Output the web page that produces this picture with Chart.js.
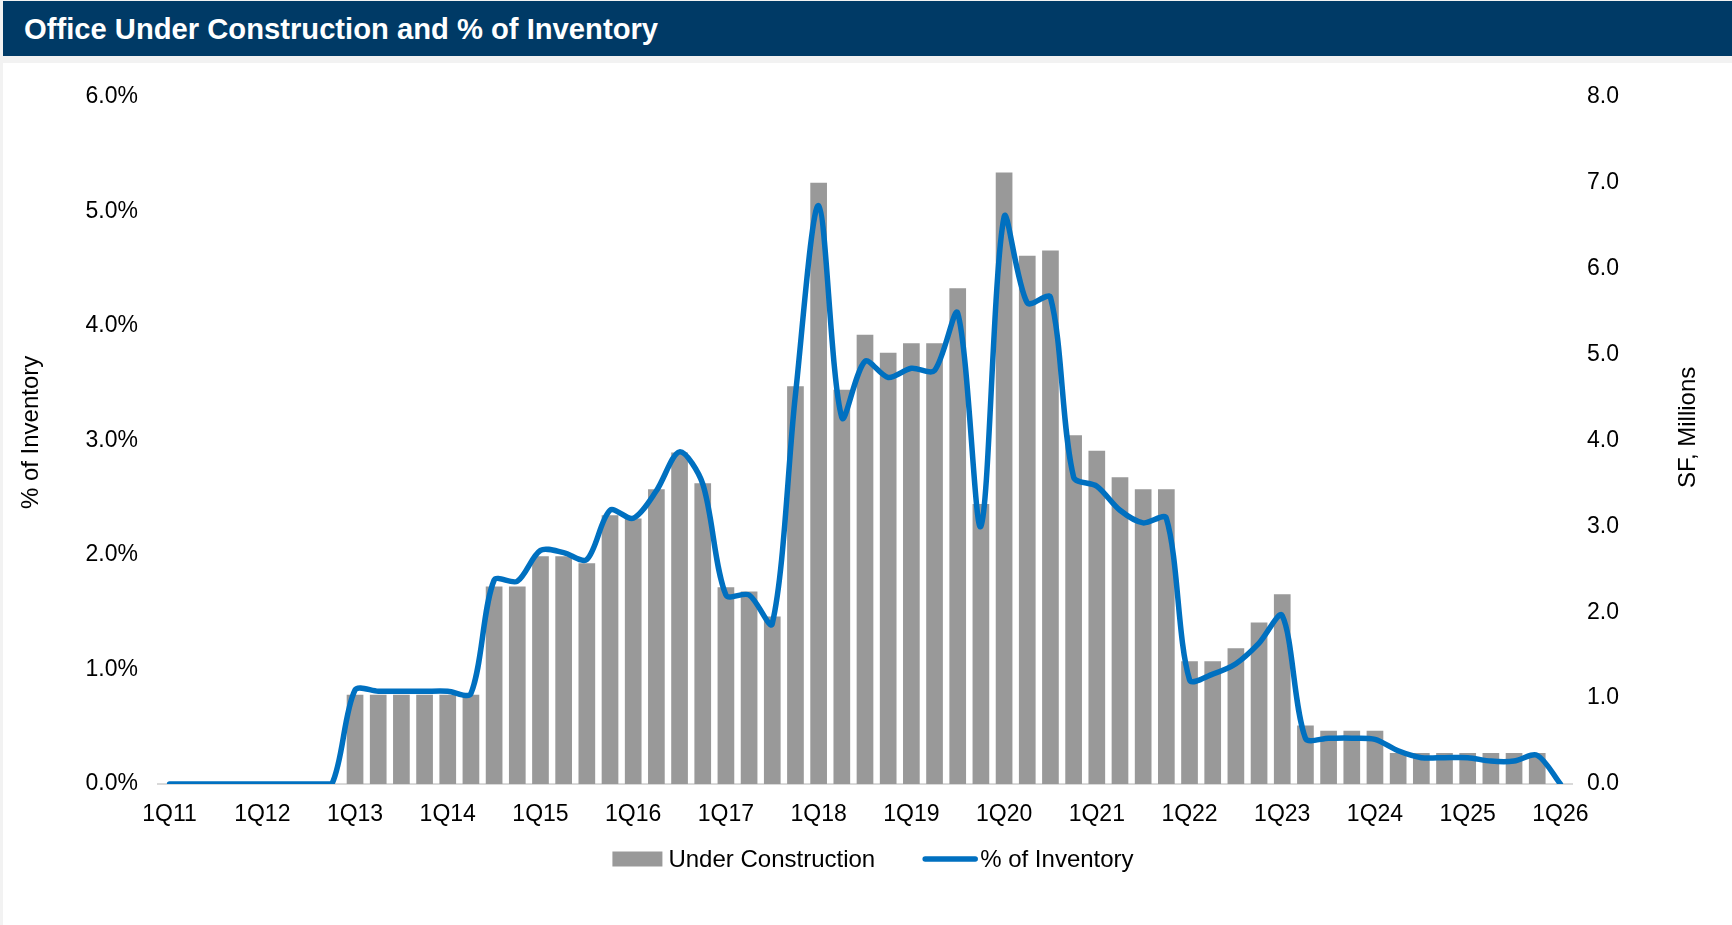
<!DOCTYPE html>
<html>
<head>
<meta charset="utf-8">
<title>Office Under Construction and % of Inventory</title>
<script src="https://cdn.jsdelivr.net/npm/chart.js@4.4.1/dist/chart.umd.min.js"></script>
<style>
  html, body { margin: 0; padding: 0; }
  body {
    width: 1732px; height: 925px; overflow: hidden; position: relative;
    background: #f2f2f2;
    font-family: "Liberation Sans", Arial, sans-serif;
  }
  #titleBar {
    position: absolute; left: 3px; top: 1px; width: 1729px; height: 55px;
    box-sizing: border-box; padding-left: 21px; padding-top: 1px;
    background: #003a66; color: #ffffff;
    font-weight: bold; font-size: 29.2px; line-height: 55px; white-space: nowrap;
  }
  #panel {
    position: absolute; left: 3px; top: 63px; width: 1729px; height: 862px;
    background: #ffffff;
  }
  #chart { position: absolute; left: 0; top: 0; }
</style>
</head>
<body>
<div id="titleBar">Office Under Construction and % of Inventory</div>
<div id="panel"><canvas id="chart" width="1729" height="862"></canvas></div>
<script>
// Quarter labels, 1Q11 through 1Q26
const quarters = [
  '1Q11','2Q11','3Q11','4Q11','1Q12','2Q12','3Q12','4Q12',
  '1Q13','2Q13','3Q13','4Q13','1Q14','2Q14','3Q14','4Q14',
  '1Q15','2Q15','3Q15','4Q15','1Q16','2Q16','3Q16','4Q16',
  '1Q17','2Q17','3Q17','4Q17','1Q18','2Q18','3Q18','4Q18',
  '1Q19','2Q19','3Q19','4Q19','1Q20','2Q20','3Q20','4Q20',
  '1Q21','2Q21','3Q21','4Q21','1Q22','2Q22','3Q22','4Q22',
  '1Q23','2Q23','3Q23','4Q23','1Q24','2Q24','3Q24','4Q24',
  '1Q25','2Q25','3Q25','4Q25','1Q26'
];

// Office space under construction, millions of SF
const underConstruction = [
  0, 0, 0, 0, 0, 0, 0, 0,
  1.04, 1.04, 1.04, 1.04, 1.04, 1.04, 2.30, 2.30,
  2.65, 2.65, 2.57, 3.13, 3.09, 3.43, 3.86, 3.50,
  2.29, 2.24, 1.95, 4.63, 7.00, 4.59, 5.23, 5.02,
  5.13, 5.13, 5.77, 3.26, 7.12, 6.15, 6.21, 4.06,
  3.88, 3.57, 3.43, 3.43, 1.43, 1.43, 1.58, 1.88,
  2.21, 0.68, 0.62, 0.62, 0.62, 0.36, 0.36, 0.36,
  0.36, 0.36, 0.36, 0.36, 0
];

// Under construction as a share of total inventory, percent
const pctOfInventory = [
  0, 0, 0, 0, 0, 0, 0, 0,
  0.82, 0.81, 0.81, 0.81, 0.81, 0.79, 1.78, 1.77,
  2.04, 2.02, 1.96, 2.39, 2.32, 2.56, 2.90, 2.62,
  1.65, 1.65, 1.40, 3.40, 5.05, 3.20, 3.69, 3.55,
  3.63, 3.61, 4.11, 2.25, 4.95, 4.20, 4.25, 2.68,
  2.60, 2.39, 2.28, 2.32, 0.91, 0.96, 1.05, 1.23,
  1.47, 0.40, 0.40, 0.40, 0.39, 0.29, 0.23, 0.23,
  0.23, 0.20, 0.20, 0.25, 0
];

const seriesNames = ['Under Construction', '% of Inventory'];
const axisTitles = { left: '% of Inventory', right: 'SF, Millions' };
const pctAxisRange = [0, 6];
const sfAxisRange = [0, 8];

const BAR_COLOR = '#999999';
const LINE_COLOR = '#0070c0';
const FONT = '"Liberation Sans", Arial, sans-serif';

// Axis titles (both read bottom-to-top) and the legend row under the axis
const sideTextAndKey = {
  id: 'sideTextAndKey',
  afterDraw(chart) {
    const { ctx, chartArea } = chart;
    ctx.save();
    ctx.fillStyle = '#000000';
    ctx.font = '24px ' + FONT;
    ctx.textAlign = 'center';
    ctx.textBaseline = 'middle';

    const midY = (chartArea.top + chartArea.bottom) / 2;
    ctx.save();
    ctx.translate(28, midY - 8);
    ctx.rotate(-Math.PI / 2);
    ctx.fillText(axisTitles.left, 0, 0);
    ctx.restore();

    ctx.save();
    ctx.translate(1685, midY - 13);
    ctx.rotate(-Math.PI / 2);
    ctx.fillText(axisTitles.right, 0, 0);
    ctx.restore();

    // legend
    const swatchW = 50, swatchH = 15, lineW = 54, gapText = 6, gapItems = 48;
    ctx.textAlign = 'left';
    const t1 = ctx.measureText(seriesNames[0]).width;
    const t2 = ctx.measureText(seriesNames[1]).width;
    const total = swatchW + gapText + t1 + gapItems + lineW + 3 + t2;
    const cx = 870, cy = 796;
    let x = cx - total / 2;
    ctx.fillStyle = BAR_COLOR;
    ctx.fillRect(x, cy - swatchH / 2, swatchW, swatchH);
    x += swatchW + gapText;
    ctx.fillStyle = '#000000';
    ctx.fillText(seriesNames[0], x, cy + 1);
    x += t1 + gapItems;
    ctx.strokeStyle = LINE_COLOR;
    ctx.lineWidth = 5.5;
    ctx.lineCap = 'round';
    ctx.beginPath();
    ctx.moveTo(x + 2, cy);
    ctx.lineTo(x + lineW - 2, cy);
    ctx.stroke();
    x += lineW + 3;
    ctx.fillText(seriesNames[1], x, cy + 1);
    ctx.restore();
  }
};

const tickFont = { family: FONT, size: 23 };

new Chart(document.getElementById('chart'), {
  data: {
    labels: quarters,
    datasets: [
      {
        type: 'bar',
        label: seriesNames[0],
        data: underConstruction,
        yAxisID: 'ySF',
        backgroundColor: BAR_COLOR,
        borderWidth: 0,
        categoryPercentage: 1.0,
        barPercentage: 0.72,
        order: 2
      },
      {
        type: 'line',
        label: seriesNames[1],
        data: pctOfInventory,
        yAxisID: 'yPct',
        borderColor: LINE_COLOR,
        borderWidth: 5.5,
        borderCapStyle: 'round',
        borderJoinStyle: 'round',
        pointRadius: 0,
        pointHoverRadius: 0,
        tension: 0.3,
        fill: false,
        order: 1
      }
    ]
  },
  options: {
    responsive: false,
    animation: false,
    events: [],
    layout: { padding: { top: 29.5, left: 0, right: 0, bottom: 0 } },
    plugins: { legend: { display: false }, tooltip: { enabled: false } },
    scales: {
      x: {
        offset: true,
        grid: { display: false, drawTicks: false },
        border: { display: true, color: '#d9d9d9', width: 2 },
        ticks: {
          autoSkip: false, maxRotation: 0, minRotation: 0,
          padding: 17, color: '#000000', font: tickFont,
          callback: (v, i) => quarters[i].startsWith('1Q') ? quarters[i] : ''
        },
        afterFit: s => { s.height = 141; }
      },
      yPct: {
        position: 'left',
        min: pctAxisRange[0], max: pctAxisRange[1],
        grid: { display: false, drawTicks: false },
        border: { display: false },
        ticks: {
          stepSize: 1, padding: 20, color: '#000000', font: tickFont,
          callback: v => v.toFixed(1) + '%'
        },
        afterFit: s => { s.width = 155; }
      },
      ySF: {
        position: 'right',
        min: sfAxisRange[0], max: sfAxisRange[1],
        grid: { display: false, drawTicks: false },
        border: { display: false },
        ticks: {
          stepSize: 1, padding: 15, color: '#000000', font: tickFont,
          callback: v => v.toFixed(1)
        },
        afterFit: s => { s.width = 160; }
      }
    }
  },
  plugins: [sideTextAndKey]
});
</script>
</body>
</html>
